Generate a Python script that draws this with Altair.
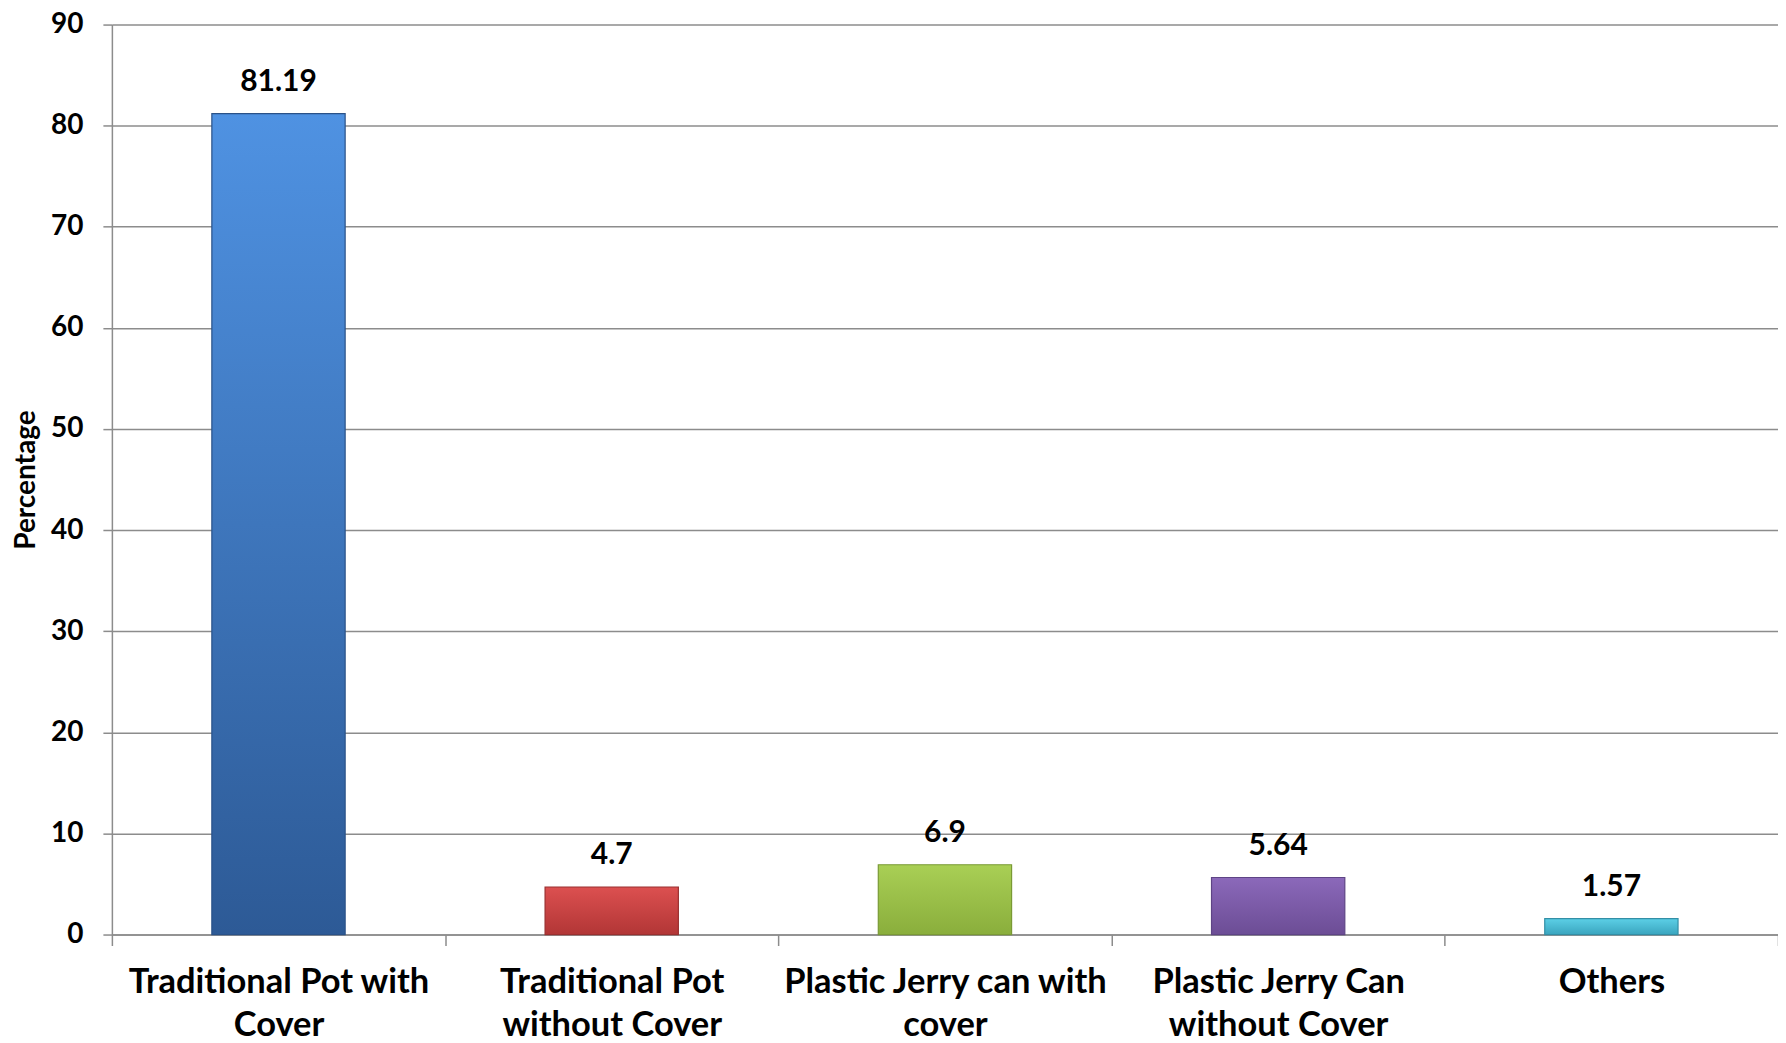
import altair as alt
import pandas as pd

categories = ["Traditional Pot with|Cover", "Traditional Pot|without Cover",
              "Plastic Jerry can with|cover", "Plastic Jerry Can|without Cover", "Others"]
values = [81.19, 4.7, 6.9, 5.64, 1.57]
labels = ["81.19", "4.7", "6.9", "5.64", "1.57"]
top_colors = ["#4f92e2", "#dc5050", "#a9cf55", "#8b69ba", "#5ccfe6"]
bottom_colors = ["#2d5a96", "#b23636", "#8aae3c", "#6c4d95", "#3aa5bf"]
stroke_colors = ["#2a5288", "#993030", "#7a9a35", "#5e4485", "#338fa6"]

df = pd.DataFrame({"cat": categories, "val": values, "lab": labels})

FONT = "Lato"
W, H = 1668, 911

xenc = alt.X("cat:N", sort=categories, title=None,
             scale=alt.Scale(paddingInner=0, paddingOuter=0),
             axis=alt.Axis(labelAngle=0, labelExpr="split(datum.label, '|')",
                           labelFont=FONT, labelFontSize=34.5, labelFontWeight="bold",
                           labelColor="#000000", labelLineHeight=43,
                           labelPadding=20, tickSize=11, tickBand="extent",
                           tickColor="#8c8c8c", domainColor="#8c8c8c",
                           domainWidth=1.5, tickWidth=1.5, labelLimit=400))
yenc = alt.Y("val:Q", title="Percentage",
             scale=alt.Scale(domain=[0, 90], nice=False),
             axis=alt.Axis(values=list(range(0, 91, 10)), labelFont=FONT,
                           labelFontSize=28, labelFontWeight="bold", labelColor="#000000",
                           tickSize=9, labelPadding=20, tickColor="#8c8c8c",
                           domainColor="#8c8c8c", domainWidth=1.5, tickWidth=1.5,
                           gridColor="#8c8c8c", gridWidth=1.5,
                           titleFont=FONT, titleFontSize=28, titleFontWeight="bold",
                           titleColor="#000000", titlePadding=10))

base = alt.Chart(df)
layers = []
for i, c in enumerate(categories):
    grad = alt.Gradient(gradient="linear", x1=0, x2=0, y1=0, y2=1,
                        stops=[alt.GradientStop(color=top_colors[i], offset=0),
                               alt.GradientStop(color=bottom_colors[i], offset=1)])
    layers.append(base.transform_filter(alt.datum.cat == c)
                  .mark_bar(color=grad, stroke=stroke_colors[i], strokeWidth=1.2,
                            width=alt.RelativeBandSize(0.4))
                  .encode(x=xenc, y=yenc))

text = base.mark_text(font=FONT, fontSize=30, fontWeight="bold", color="#000000",
                      baseline="bottom", dy=-17).encode(x=xenc, y=yenc, text="lab:N")

chart = alt.layer(*layers, text).properties(
    width=W, height=H,
    autosize=alt.AutoSizeParams(type="none"),
    padding={"left": 104, "top": 16, "right": 0, "bottom": 108},
).configure_view(stroke=None).configure_axisX(grid=False)

chart.save("out.html", embed_options={"renderer": "svg", "actions": False})
